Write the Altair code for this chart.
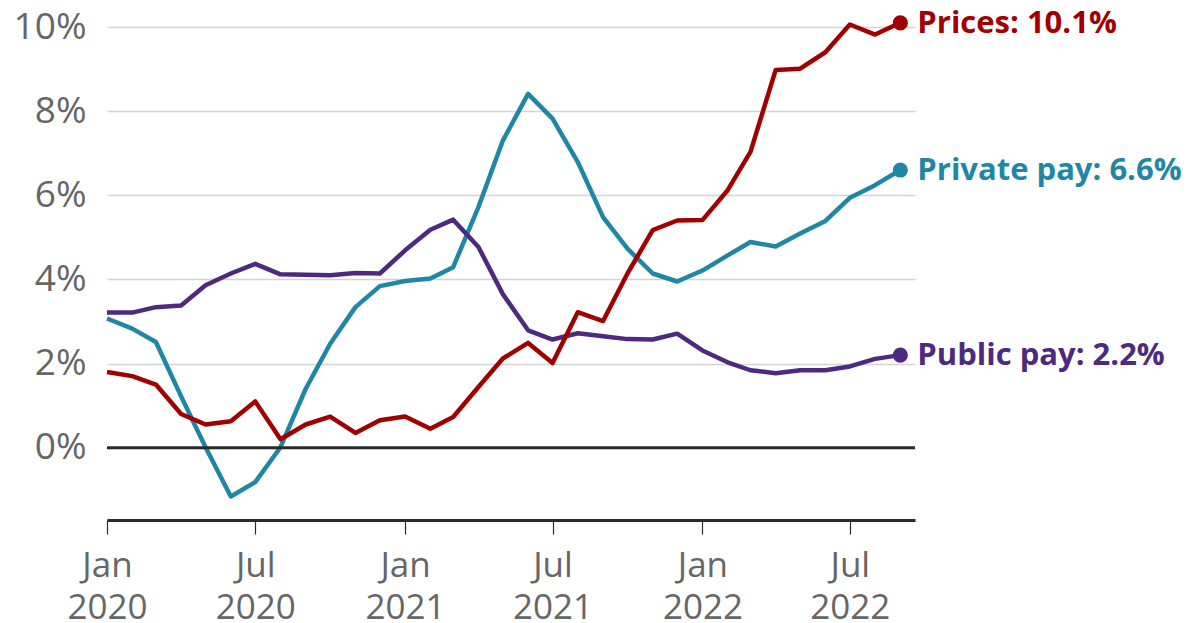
import altair as alt
import pandas as pd

# ---- data ----
months = [d.strftime("%Y-%m-%d") for d in pd.date_range("2020-01-01", "2022-09-01", freq="MS")]

series_names = ["Private pay", "Public pay", "Prices"]
series_colors = ["#1f87a5", "#4d2a80", "#a00000"]

prices = [1.8, 1.7, 1.5, 0.8, 0.55, 0.63, 1.1, 0.2, 0.55, 0.74, 0.35, 0.65,
          0.74, 0.45, 0.73, 1.44, 2.12, 2.49, 2.01, 3.22, 3.01, 4.14, 5.17, 5.40,
          5.41, 6.12, 7.03, 8.98, 9.01, 9.40, 10.06, 9.82, 10.1]
private_pay = [3.07, 2.83, 2.51, 1.22, 0.01, -1.16, -0.82, 0.01, 1.40, 2.47, 3.34, 3.84,
               3.96, 4.02, 4.29, 5.72, 7.30, 8.41, 7.82, 6.79, 5.48, 4.73, 4.14, 3.95,
               4.21, 4.57, 4.89, 4.78, 5.09, 5.39, 5.94, 6.24, 6.6]
public_pay = [3.21, 3.21, 3.34, 3.38, 3.86, 4.14, 4.37, 4.12, 4.11, 4.10, 4.15, 4.14,
              4.69, 5.18, 5.42, 4.77, 3.65, 2.79, 2.57, 2.72, 2.65, 2.58, 2.57, 2.71,
              2.31, 2.03, 1.84, 1.77, 1.84, 1.84, 1.93, 2.11, 2.2]

end_labels = ["Private pay: 6.6%", "Public pay: 2.2%", "Prices: 10.1%"]

y_ticks = [0, 2, 4, 6, 8, 10]
x_tick_dates = [(2020, 1), (2020, 7), (2021, 1), (2021, 7), (2022, 1), (2022, 7)]

# ---- tables ----
values_by_series = {"Private pay": private_pay, "Public pay": public_pay, "Prices": prices}
rows = []
for name in series_names:
    for d, v in zip(months, values_by_series[name]):
        rows.append({"date": d, "value": v, "series": name})
df = pd.DataFrame(rows)

end_df = pd.DataFrame({
    "date": [months[-1]] * 3,
    "value": [values_by_series[n][-1] for n in series_names],
    "series": series_names,
    "label": end_labels,
})

color_scale = alt.Scale(domain=series_names, range=series_colors)

x_enc = alt.X(
    "date:T",
    scale=alt.Scale(
        type="utc",
        domain=[alt.DateTime(year=2020, month=1, date=1, utc=True),
                alt.DateTime(year=2022, month=9, date=19, utc=True)],
    ),
    axis=alt.Axis(
        values=[alt.DateTime(year=y, month=m, date=1, utc=True) for y, m in x_tick_dates],
        labelExpr="[utcFormat(datum.value, '%b'), utcFormat(datum.value, '%Y')]",
        title=None,
        grid=False,
        domainColor="#2b2b2b",
        domainWidth=3,
        tickColor="#2b2b2b",
        tickWidth=1.2,
        tickSize=14,
        labelFont="Open Sans",
        labelFontSize=35,
        labelColor="#666666",
        labelLineHeight=42,
        labelPadding=14,
        labelFlush=False,
    ),
)

y_enc = alt.Y(
    "value:Q",
    scale=alt.Scale(domain=[-1.72, 10], nice=False, zero=False),
    axis=alt.Axis(
        values=y_ticks,
        labelExpr="datum.value + '%'",
        title=None,
        domain=False,
        ticks=False,
        grid=True,
        gridColor="#d4d4d4",
        gridWidth=1.5,
        labelFont="Open Sans",
        labelFontSize=37,
        labelColor="#666666",
        labelPadding=21,
    ),
)

zero_rule = alt.Chart(pd.DataFrame({"value": [0]})).mark_rule(
    color="#2b2b2b", strokeWidth=3
).encode(y=alt.Y("value:Q"))

lines = alt.Chart(df).mark_line(strokeWidth=4.5, strokeJoin="round").encode(
    x=x_enc,
    y=y_enc,
    color=alt.Color("series:N", scale=color_scale, legend=None),
    order=alt.Order("date:T"),
)

dots = alt.Chart(end_df).mark_circle(size=230, opacity=1).encode(
    x="date:T",
    y="value:Q",
    color=alt.Color("series:N", scale=color_scale, legend=None),
)

texts = alt.Chart(end_df).mark_text(
    align="left", baseline="middle", dx=17, dy=1, fontSize=31,
    fontWeight="bold", font="Open Sans",
).encode(
    x="date:T",
    y="value:Q",
    text="label:N",
    color=alt.Color("series:N", scale=color_scale, legend=None),
)

chart = alt.layer(lines, zero_rule, dots, texts).properties(
    width=808,
    height=493,
    autosize=alt.AutoSizeParams(type="none"),
    padding={"left": 99, "top": 19, "right": 275, "bottom": 115},
    background="white",
).configure_view(stroke=None)

chart.save("out.html", embed_options={"renderer": "svg", "actions": False})
